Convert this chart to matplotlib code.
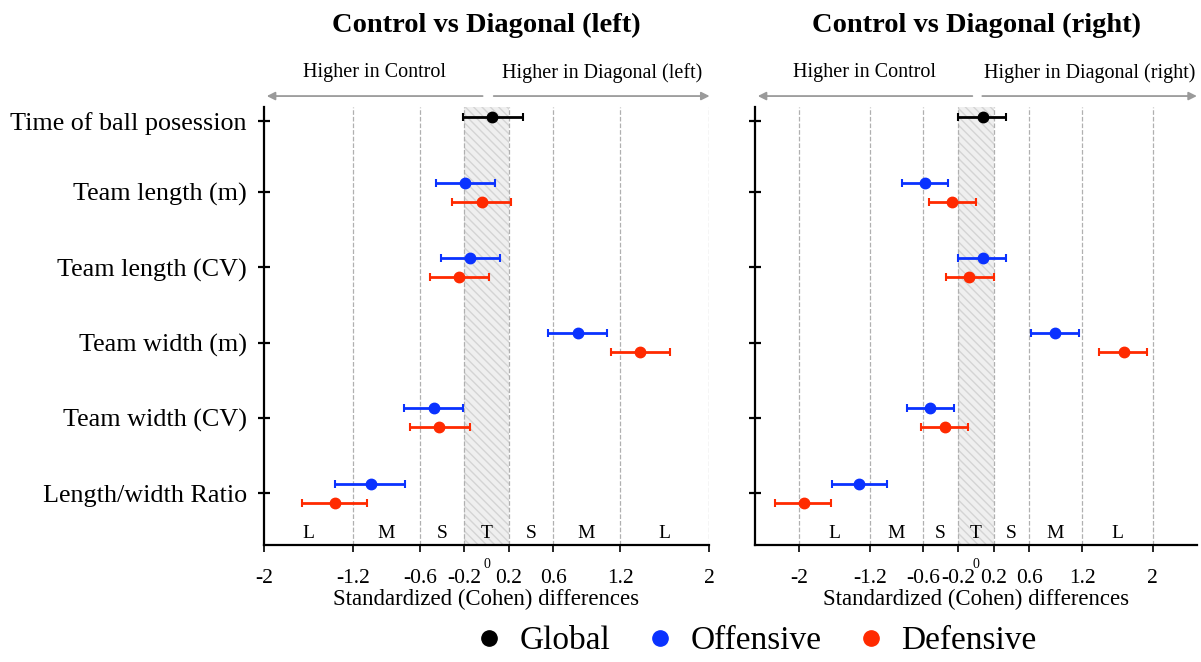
import numpy as np
import matplotlib.pyplot as plt
from matplotlib.lines import Line2D
import matplotlib.transforms as mtransforms

plt.rcParams['font.family'] = ['Liberation Serif', 'DejaVu Serif']

# ---- data (Cohen d, CI low, CI high) ----
categories = ["Time of ball posession", "Team length (m)", "Team length (CV)",
              "Team width (m)", "Team width (CV)", "Length/width Ratio"]

# left: Control vs Diagonal (left)
left_global = [0.05, -0.21, 0.33]
left_off = [[-0.19, -0.45, 0.08], [-0.15, -0.41, 0.12], [0.82, 0.55, 1.08],
            [-0.47, -0.74, -0.21], [-1.04, -1.36, -0.73]]
left_def = [[-0.04, -0.31, 0.22], [-0.25, -0.51, 0.02], [1.38, 1.12, 1.65],
            [-0.43, -0.69, -0.15], [-1.36, -1.66, -1.07]]

# right: Control vs Diagonal (right)
right_global = [0.08, -0.20, 0.34]
right_off = [[-0.58, -0.84, -0.32], [0.08, -0.20, 0.34], [0.89, 0.62, 1.16],
             [-0.52, -0.78, -0.25], [-1.32, -1.63, -1.01]]
right_def = [[-0.27, -0.53, 0.00], [-0.08, -0.34, 0.20], [1.67, 1.39, 1.94],
             [-0.35, -0.62, -0.09], [-1.95, -2.27, -1.64]]

xticks = [-2, -1.2, -0.6, -0.2, 0.2, 0.6, 1.2, 2]
xtick_labels = ["-2", "-1.2", "-0.6", "-0.2", "0.2", "0.6", "1.2", "2"]
size_labels = ["L", "M", "S", "T", "S", "M", "L"]
size_pos = [-1.6, -0.9, -0.4, 0.0, 0.4, 0.9, 1.6]

C_GLOBAL, C_OFF, C_DEF = "black", "#0a32ff", "#ff2a00"

ytick_pos = [4.95, 4, 3, 2, 1, 0]
global_y = 5.0
row_y = [4, 3, 2, 1, 0]
off_dy = 0.126


def draw_panel(ax, xlim, g, off, dfn, title, right_lbl, show_ylabels):
    ax.set_xlim(*xlim)
    ax.set_ylim(-0.69, 5.13)
    ax.axvspan(-0.2, 0.2, facecolor="#efefef", edgecolor="#d4d4d4",
               hatch="\\\\\\\\", linewidth=0, zorder=0)
    grid_x = [x for x in xticks if x > xlim[0]]
    for x in grid_x:
        ax.axvline(x, color="#b0b0b0", ls="--", lw=0.9, zorder=1)

    eb = dict(fmt="o", ms=7.5, capsize=3, elinewidth=2, capthick=1.5, zorder=3)
    ax.errorbar([g[0]], [global_y], xerr=[[g[0] - g[1]], [g[2] - g[0]]],
                color=C_GLOBAL, **eb)
    for i, y in enumerate(row_y):
        o, d = off[i], dfn[i]
        ax.errorbar([o[0]], [y + off_dy], xerr=[[o[0] - o[1]], [o[2] - o[0]]],
                    color=C_OFF, **eb)
        ax.errorbar([d[0]], [y - off_dy], xerr=[[d[0] - d[1]], [d[2] - d[0]]],
                    color=C_DEF, **eb)

    for s in ["top", "right"]:
        ax.spines[s].set_visible(False)
    ax.spines["left"].set_linewidth(1.6)
    ax.spines["bottom"].set_linewidth(1.6)

    ax.set_yticks(ytick_pos)
    if show_ylabels:
        ax.set_yticklabels(categories, fontsize=18.8)
    else:
        ax.set_yticklabels([])
    ax.tick_params(axis="y", direction="inout", length=9, width=1.6, pad=8)
    ax.set_xticks(xticks)
    ax.set_xticklabels(xtick_labels, fontsize=15.5)
    ax.tick_params(axis="x", direction="out", length=5, width=1.2, pad=12)
    ax.set_xlabel("Standardized (Cohen) differences", fontsize=16.4, labelpad=1)

    trans = mtransforms.blended_transform_factory(ax.transData, ax.transAxes)
    for lbl, x in zip(size_labels, size_pos):
        ax.text(x, 0.027, lbl, transform=trans, ha="center", va="center", fontsize=14)
    ax.text(0, -0.045, "0", transform=trans, ha="center", va="center", fontsize=10)

    # direction arrows above panel
    arr = dict(arrowstyle="-|>", color="#9a9a9a", lw=1.3, mutation_scale=12)
    x0, x1 = xlim[0], xlim[1] + 0.03
    ax.annotate("", xy=(x0, 1.025), xytext=(-0.01, 1.025), xycoords=trans,
                textcoords=trans, arrowprops=arr, annotation_clip=False)
    ax.annotate("", xy=(x1, 1.025), xytext=(0.04, 1.025), xycoords=trans,
                textcoords=trans, arrowprops=arr, annotation_clip=False)
    ax.text((x0 + 0) / 2 - 0.01, 1.078, "Higher in Control", transform=trans,
            ha="center", va="center", fontsize=14.5)
    ax.text((x1 + 0.04) / 2, 1.078, right_lbl, transform=trans,
            ha="center", va="center", fontsize=14.5)
    ax.set_title(title, fontsize=20.5, fontweight="bold", pad=54)


fig = plt.figure(figsize=(12.01, 6.62), dpi=100)
ax1 = fig.add_axes([264 / 1201, 117 / 662, 445 / 1201, 438 / 662])
ax2 = fig.add_axes([755 / 1201, 117 / 662, 442 / 1201, 438 / 662])

draw_panel(ax1, (-2, 2), left_global, left_off, left_def,
           "Control vs Diagonal (left)", "Higher in Diagonal (left)", True)
draw_panel(ax2, (-2.5, 2.5), right_global, right_off, right_def,
           "Control vs Diagonal (right)", "Higher in Diagonal (right)", False)

handles = [Line2D([], [], ls="", marker="o", ms=11, color=c) for c in (C_GLOBAL, C_OFF, C_DEF)]
fig.legend(handles, ["Global", "Offensive", "Defensive"], loc="center",
           bbox_to_anchor=(753 / 1201, 1 - 641 / 662), ncol=3, frameon=False,
           fontsize=24, handletextpad=0.3, columnspacing=0.9, handlelength=1.2)

fig.savefig("out.png", dpi=100)
